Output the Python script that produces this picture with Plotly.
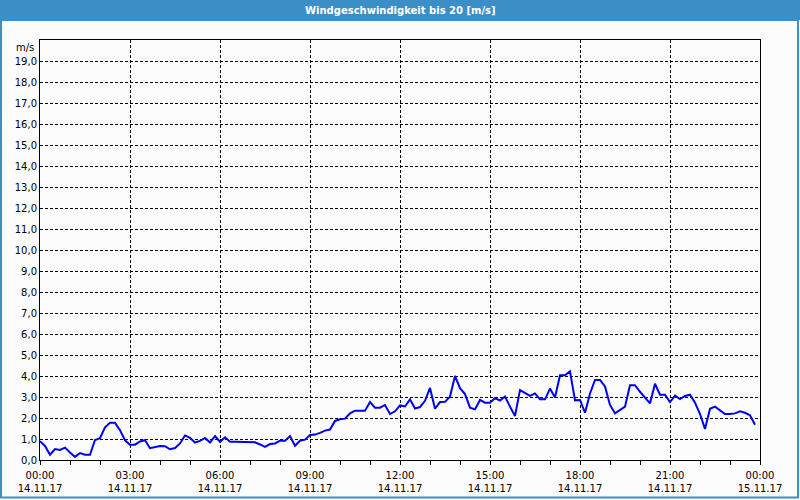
import plotly.graph_objects as go
import pandas as pd

# Wind speed [m/s], 10-minute values from 14.11.17 00:00 to 23:50
wind = [
    0.90, 0.67, 0.25, 0.52, 0.48, 0.59, 0.36, 0.15, 0.33, 0.25,
    0.25, 0.95, 1.04, 1.56, 1.77, 1.77, 1.42, 0.94, 0.73, 0.73,
    0.88, 0.94, 0.56, 0.62, 0.67, 0.66, 0.51, 0.57, 0.79, 1.17,
    1.06, 0.83, 0.91, 1.05, 0.83, 1.14, 0.87, 1.08, 0.87, 0.87,
    0.87, 0.87, 0.87, 0.84, 0.74, 0.62, 0.76, 0.79, 0.92, 0.92,
    1.14, 0.68, 0.92, 0.97, 1.19, 1.21, 1.29, 1.40, 1.45, 1.86,
    1.94, 1.97, 2.22, 2.35, 2.35, 2.35, 2.76, 2.49, 2.49, 2.62,
    2.19, 2.32, 2.60, 2.55, 2.89, 2.45, 2.52, 2.82, 3.43, 2.44,
    2.76, 2.77, 3.02, 4.00, 3.42, 3.14, 2.49, 2.41, 2.86, 2.73,
    2.73, 2.95, 2.83, 3.02, 2.54, 2.10, 3.33, 3.17, 3.05, 3.17,
    2.89, 2.89, 3.40, 2.98, 4.03, 4.03, 4.22, 2.84, 2.86, 2.25,
    3.17, 3.81, 3.81, 3.50, 2.62, 2.22, 2.38, 2.54, 3.56, 3.56,
    3.25, 2.98, 2.70, 3.63, 3.11, 3.11, 2.76, 3.07, 2.90, 3.05,
    3.11, 2.73, 2.19, 1.48, 2.44, 2.54, 2.38, 2.19, 2.19, 2.22,
    2.32, 2.25, 2.13, 1.68,
]
times = pd.date_range("2017-11-14 00:00", periods=len(wind), freq="10min")

y_ticks = list(range(0, 20))
title_text = "Windgeschwindigkeit bis 20 [m/s]"
unit_text = "m/s"

FONT = "DejaVu Sans"
BLUE_BAR = "#3c8fc6"
BG = "#fbfcfb"

W, H = 800, 500
L, R, T, B = 40, 40, 40, 40
pw, ph = W - L - R, H - T - B


def px(x):
    return (x - L) / pw


def py(y):
    return (H - B - y) / ph


fig = go.Figure()
fig.add_trace(go.Scatter(
    x=times, y=wind, mode="lines",
    line=dict(color="#0000f0", width=2),
    hoverinfo="skip", showlegend=False,
))

fig.update_layout(
    width=W, height=H,
    margin=dict(l=L, r=R, t=T, b=B, autoexpand=False),
    paper_bgcolor=BG, plot_bgcolor=BG,
    separators=",.",
    font=dict(family=FONT, size=10, color="#000000"),
    xaxis=dict(
        type="date", automargin=False,
        range=["2017-11-14 00:00", "2017-11-15 00:00"],
        tick0="2017-11-14 00:00", dtick=3 * 3600 * 1000,
        tickformat="%H:%M<br>%d.%m.%y",
        showgrid=True, gridcolor="#000000", gridwidth=1, griddash="3px,2px",
        showline=True, linecolor="#000000", linewidth=1, mirror=True,
        ticks="outside", ticklen=4, tickcolor="#000000",
        ticklabelstandoff=2,
        minor=dict(dtick=3600 * 1000, ticks="outside", ticklen=4,
                   tickcolor="#000000", showgrid=False),
        zeroline=False, fixedrange=True,
        tickfont=dict(family=FONT, size=10, color="#000000"),
    ),
    yaxis=dict(
        range=[0, 20], automargin=False,
        tickvals=y_ticks, tickformat=".1f",
        showgrid=True, gridcolor="#000000", gridwidth=1, griddash="3px,2px",
        showline=True, linecolor="#000000", linewidth=1, mirror=True,
        ticks="", zeroline=False, fixedrange=True,
        tickfont=dict(family=FONT, size=10, color="#000000"),
    ),
    shapes=[
        dict(type="rect", xref="paper", yref="paper",
             x0=px(0), x1=px(800), y0=py(20), y1=py(0),
             fillcolor=BLUE_BAR, line=dict(width=0), layer="above"),
        dict(type="rect", xref="paper", yref="paper",
             x0=px(1), x1=px(798), y0=py(497.5), y1=py(20),
             fillcolor="rgba(0,0,0,0)", line=dict(color=BLUE_BAR, width=2),
             layer="above"),
    ],
    annotations=[
        dict(text="<b>" + title_text + "</b>", xref="paper", yref="paper",
             x=px(400), y=py(10), xanchor="center", yanchor="middle",
             showarrow=False, font=dict(family=FONT, size=10, color="#ffffff")),
        dict(text=unit_text, xref="paper", yref="paper",
             x=px(36), y=py(47), xanchor="right", yanchor="middle",
             showarrow=False, font=dict(family=FONT, size=10, color="#000000")),
    ],
)

fig.write_html("out.html")
